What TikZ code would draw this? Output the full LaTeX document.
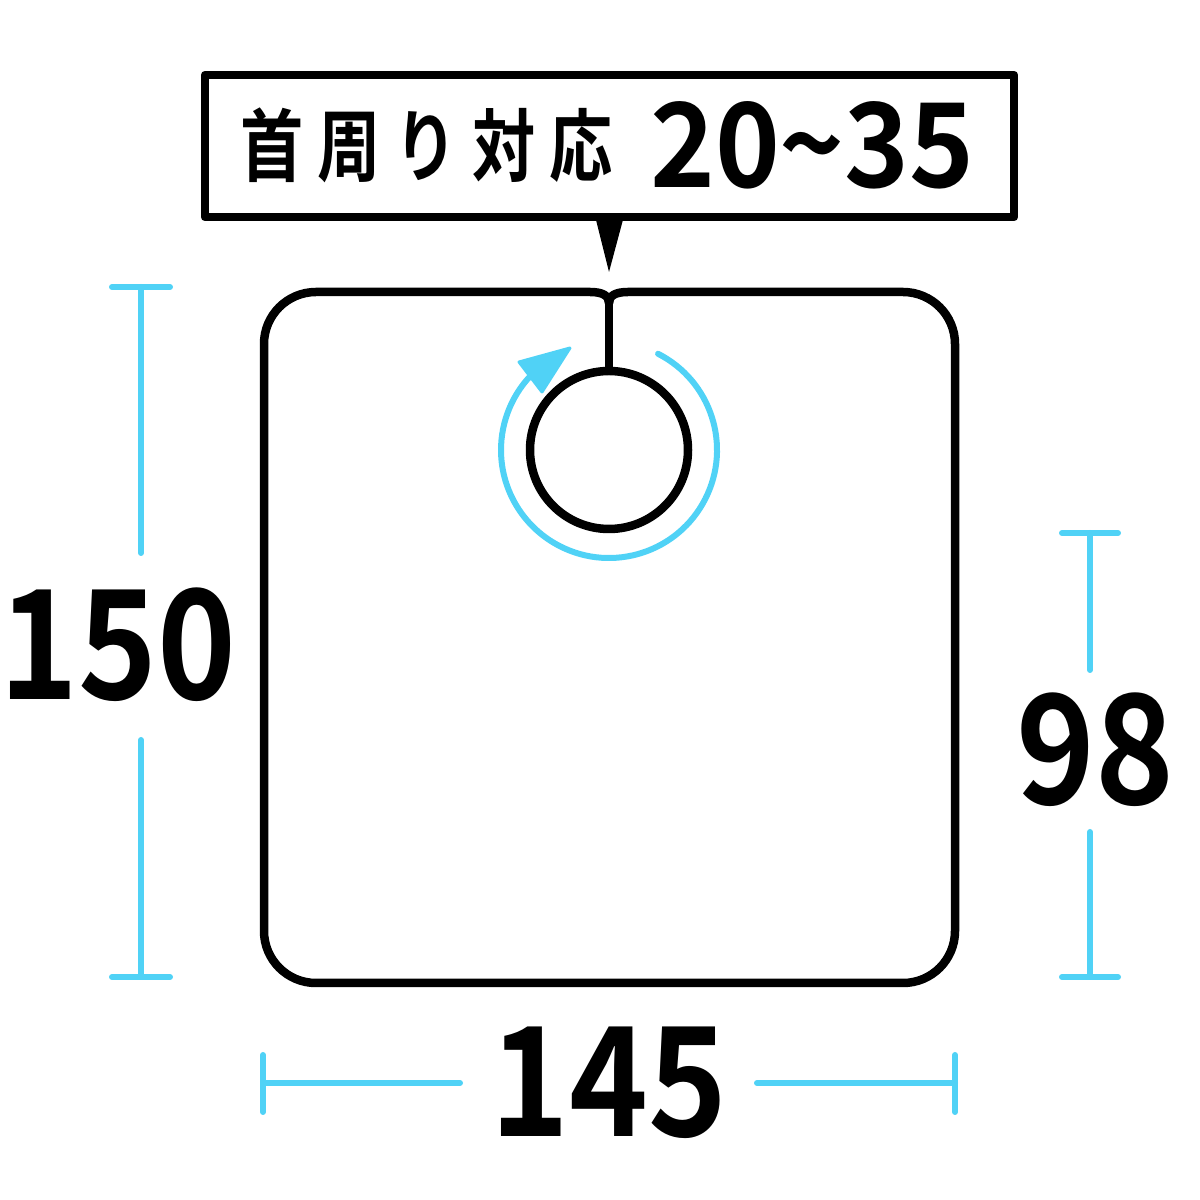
\documentclass[tikz,border=0pt]{standalone}
\usepackage{fontspec}
\newfontfamily\cjk{Noto Sans CJK JP Bold}[FakeStretch=0.88]
\newfontfamily\cjkrng{Noto Sans CJK JP Bold}[FakeStretch=0.94]
\newfontfamily\cjkjp{Noto Sans CJK JP Bold}[FakeStretch=0.8, LetterSpace=18]
\definecolor{dimblue}{RGB}{80,210,246}
\tikzset{
  outline/.style={draw=black, line width=8.5pt, line join=round, line cap=round},
  dimline/.style={draw=dimblue, line width=6pt, line cap=round},
  bignum/.style={inner sep=0pt, font=\cjk\fontsize{152}{152}\selectfont},
}
\begin{document}
\begin{tikzpicture}[x=1pt,y=1pt]
\useasboundingbox (0,0) rectangle (1200,1200);
% label box
\node[outline, rectangle, minimum width=809pt, minimum height=142pt, inner sep=0pt] (label) at (609.5,1054) {};
\node[inner sep=0pt, anchor=west, font=\cjkjp\fontsize{79}{79}\selectfont] (jp) at (240,1055) {首周り対応};
\node[inner sep=0pt, anchor=base west, font=\cjkrng\fontsize{117}{117}\selectfont] (rng) at (650,1012) {20\textasciitilde35};
\coordinate (tipL) at (595,984);
\coordinate (tipR) at (624,984);
\coordinate (tip) at (609,928);
\fill (tipL) -- (tip) -- (tipR) -- cycle;
% cape
\coordinate (slit) at (609,897);
\draw[outline] (slit) .. controls (609,904) and (603,908) .. (590,908) -- (316,908)
  arc[start angle=90, end angle=180, radius=52] -- (264,269)
  arc[start angle=180, end angle=270, radius=52] -- (903,217)
  arc[start angle=270, end angle=360, radius=52] -- (955,856)
  arc[start angle=0, end angle=90, radius=52] -- (628,908)
  .. controls (615,908) and (609,904) .. (slit);
\node[outline, circle, minimum size=158pt, inner sep=0pt] (neck) at (609,750) {};
\draw[outline] (slit) -- (neck.north);
% rotation arrow
\coordinate (rc) at (609,750);
\draw[dimline] ([shift={(63:108)}]rc) arc[start angle=63, end angle=-223, radius=108];
\fill[dimblue, draw=dimblue, line width=3pt, line join=round] (570,852) -- (519,838) -- (542,808) -- cycle;
% dimension 150
\node[bignum] (h150) at (118,555) {150};
\coordinate (a1) at (141,913); \coordinate (a2) at (141,223);
\draw[dimline] (112,913) -- (170,913);
\draw[dimline] (112,223) -- (170,223);
\draw[dimline] (a1) -- (141,647);
\draw[dimline] (141,460) -- (a2);
% dimension 98
\node[bignum] (h98) at (1095,450) {98};
\coordinate (b1) at (1090,667); \coordinate (b2) at (1090,223);
\draw[dimline] (1062,667) -- (1118,667);
\draw[dimline] (1062,223) -- (1118,223);
\draw[dimline] (b1) -- (1090,530);
\draw[dimline] (1090,368) -- (b2);
% dimension 145
\node[bignum] (w145) at (609,117) {145};
\coordinate (c1) at (263,117); \coordinate (c2) at (955,117);
\draw[dimline] (263,145) -- (263,88);
\draw[dimline] (955,145) -- (955,88);
\draw[dimline] (c1) -- (460,117);
\draw[dimline] (757,117) -- (c2);
\end{tikzpicture}
\end{document}
